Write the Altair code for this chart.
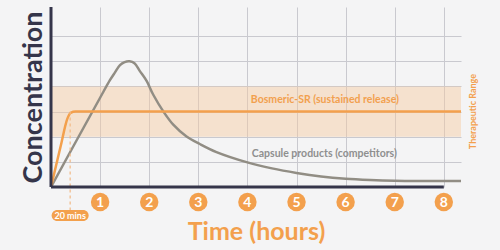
import altair as alt
import pandas as pd

# Data
hours = [1, 2, 3, 4, 5, 6, 7, 8]
sr_t = [0.0, 0.2, 0.33, 0.4, 0.5, 8.5]
sr_c = [0.0, 1.65, 2.7, 2.95, 3.0, 3.0]
cap_t = [0.0, 0.5, 1.0, 1.2, 1.3, 1.405, 1.5, 1.6, 1.7, 1.81, 1.95, 2.08, 2.29, 2.49,
         2.76, 3.03, 3.37, 4.0, 4.5, 5.0, 5.5, 6.0, 6.5, 7.0, 7.5, 8.5]
cap_c = [0.0, 1.78, 3.55, 4.25, 4.55, 4.85, 4.97, 5.0, 4.92, 4.61, 4.21, 3.68, 3.0, 2.48,
         2.01, 1.71, 1.39, 0.98, 0.74, 0.56, 0.42, 0.33, 0.28, 0.25, 0.24, 0.24]
range_lo, range_hi = 2, 4
grid_y = [1, 2, 3, 4, 5, 6]
labels = ["Bosmeric-SR (sustained release)", "Capsule products (competitors)"]
label_t = [4.07, 4.09]
label_c = [3.48, 1.32]
label_colors = ["#f2a04e", "#8f8f8f"]
mins_t = 0.39
mins_label = "20 mins"

ORANGE = "#f3a04d"
NAVY = "#35354a"
GRID = "#c9c9cf"

xs = alt.Scale(domain=[0, 8.35], nice=False, zero=False)
ys = alt.Scale(domain=[0, 7.16], nice=False, zero=False)
x_axis = alt.Axis(values=hours, grid=True, gridColor=GRID, gridWidth=1, domain=False, ticks=False,
                  labels=False, title="Time (hours)", titleFontSize=25, titleColor=ORANGE,
                  titleFont="Lato", titleFontWeight="bold", titlePadding=32)
y_axis = alt.Axis(values=grid_y, grid=True, gridColor=GRID, gridWidth=1, domain=False, ticks=False,
                  labels=False, title="Concentration", titleFontSize=27, titleColor=NAVY,
                  titleFont="Lato", titleFontWeight="bold", titlePadding=4)


def X(field):
    return alt.X(field, scale=xs, axis=x_axis)


def Y(field):
    return alt.Y(field, scale=ys, axis=y_axis)


band_df = pd.DataFrame({"t": [0], "t2": [8.35], "lo": [range_lo], "hi": [range_hi]})
band = alt.Chart(band_df).mark_rect(color="#f6c9a0", opacity=0.45).encode(
    x=X("t:Q"), x2="t2:Q", y=Y("lo:Q"), y2="hi:Q")

sr_df = pd.DataFrame({"t": sr_t, "c": sr_c})
cap_df = pd.DataFrame({"t": cap_t, "c": cap_c})

cap_line = alt.Chart(cap_df).mark_line(color="#918d84", strokeWidth=2.5, interpolate="catmull-rom", clip=True).encode(
    x=X("t:Q"), y=Y("c:Q"))
sr_line = alt.Chart(sr_df).mark_line(color=ORANGE, strokeWidth=2.5, interpolate="monotone", clip=True).encode(
    x=X("t:Q"), y=Y("c:Q"))

axes_df = pd.DataFrame({"t": [0], "t8": [8], "c0": [0], "ctop": [7.16]})
x_axis_line = alt.Chart(axes_df).mark_rule(color=NAVY, strokeWidth=3).encode(
    x=X("t:Q"), x2="t8:Q", y=Y("c0:Q"))
y_axis_line = alt.Chart(axes_df).mark_rule(color=NAVY, strokeWidth=3).encode(
    x=X("t:Q"), y=Y("c0:Q"), y2="ctop:Q")

mins_df = pd.DataFrame({"t": [mins_t], "c": [3.0], "label": [mins_label]})
dash = alt.Chart(mins_df).mark_rule(color="#f2b884", strokeWidth=1.2, strokeDash=[3, 3]).encode(
    x=X("t:Q"), y=Y("c:Q"), y2=alt.value(203))
pill = alt.Chart(mins_df).mark_rect(color=ORANGE, width=37, height=11, cornerRadius=5.5).encode(
    x=X("t:Q"), y=alt.value(208.5))
pill_text = alt.Chart(mins_df).mark_text(color="white", fontSize=9, font="Lato", fontWeight="bold").encode(
    x=X("t:Q"), y=alt.value(208.5), text="label:N")

hours_df = pd.DataFrame({"h": hours, "lab": [str(h) for h in hours]})
circles = alt.Chart(hours_df).mark_circle(color=ORANGE, size=340, opacity=1).encode(
    x=X("h:Q"), y=alt.value(195))
nums = alt.Chart(hours_df).mark_text(color="white", fontSize=14, font="Lato", fontWeight="bold").encode(
    x=X("h:Q"), y=alt.value(195.5), text="lab:N")

lab_df = pd.DataFrame({"label": labels, "t": label_t, "c": label_c, "col": label_colors})
series_labels = alt.Chart(lab_df).mark_text(align="left", fontSize=10.5, font="Lato", fontWeight="bold").encode(
    x=X("t:Q"), y=Y("c:Q"), text="label:N", color=alt.Color("col:N", scale=None))

range_df = pd.DataFrame({"c": [3.0], "label": ["Therapeutic Range"]})
range_label = alt.Chart(range_df).mark_text(angle=270, color=ORANGE, fontSize=9, font="Lato", fontWeight="bold").encode(
    x=alt.value(422), y=Y("c:Q"), text="label:N")

chart = alt.layer(band, cap_line, sr_line, dash, x_axis_line, y_axis_line, pill, pill_text,
                  circles, nums, series_labels, range_label).properties(
    width=410, height=180,
    autosize=alt.AutoSizeParams(type="none"),
    padding={"left": 51, "top": 7, "right": 39, "bottom": 63},
    background="#f4f4f5",
).configure_view(stroke=None)

chart.save("out.html", embed_options={"renderer": "svg", "actions": False})
